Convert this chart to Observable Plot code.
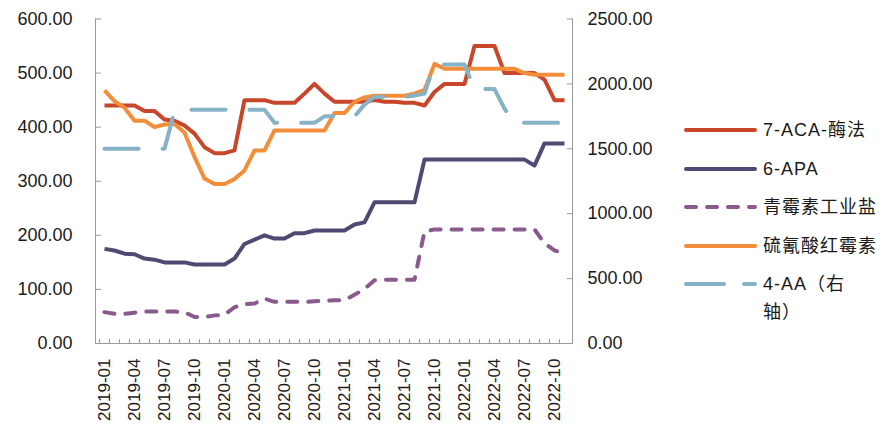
<!DOCTYPE html>
<html><head><meta charset="utf-8">
<script src="https://cdn.jsdelivr.net/npm/d3@7"></script>
<script src="https://cdn.jsdelivr.net/npm/@observablehq/plot@0.6"></script>
<style>
body{margin:0;background:#fff;}
#wrap{position:relative;width:896px;height:430px;font-family:"Liberation Sans","Noto Sans CJK SC",sans-serif;}
.lg{position:absolute;font-size:18px;color:#1a1a1a;white-space:nowrap;letter-spacing:1px;line-height:28px;}
.ls{position:absolute;}
</style></head><body><div id="wrap"><div id="chart"></div></div>
<script>
const months = [];
for (let y = 2019; y <= 2022; y++) for (let m = 1; m <= 12; m++) if (!(y === 2022 && m === 12)) months.push(`${y}-${String(m).padStart(2,"0")}`);

const aca7 = [440,440,440,440,430,430,414,412,403,388,363,352,352,357,450,450,450,445,445,445,462,480,462,447,447,447,447,450,447,447,445,445,440,465,480,480,480,550,550,550,500,500,500,500,488,450,450];
const apa6 = [175,172,166,165,157,155,150,150,150,146,146,146,146,157,184,192,200,194,194,204,204,209,209,209,209,220,224,261,261,261,261,261,340,340,340,340,340,340,340,340,340,340,340,329,370,370,370];
const penicillin = [58,55,55,57,59,59,59,59,58,49,49,52,53,67,73,74,83,77,77,77,77,78,79,80,80,90,101,117,118,118,118,118,207,211,211,211,211,211,211,211,211,211,211,211,185,172,167];
const erythro = [468,448,436,412,412,400,405,406,390,345,305,295,295,304,320,357,357,394,394,394,394,394,394,426,426,447,455,458,458,458,458,462,469,517,508,508,508,508,508,508,508,508,500,497,497,497,497];
const aa4 = [1500,1500,1500,1500,1500,1500,1500,1790,1800,1800,1800,1800,1800,1800,1800,1800,1800,1700,1700,1700,1700,1700,1750,1750,1750,1750,1840,1900,1900,1900,1900,1910,1925,2150,2150,2150,2150,1960,1960,1960,1810,1700,1700,1700,1700,1700,1700];

const leftTicks = [0,100,200,300,400,500,600];
const rightTicks = [0,500,1000,1500,2000,2500];
const labelMonths = months.filter((m,i) => i % 3 === 0);

const series = [
  {name:"7-ACA-酶法", values: aca7, color:"#C8462B", dash:null},
  {name:"6-APA", values: apa6, color:"#4E4A73", dash:null},
  {name:"青霉素工业盐", values: penicillin, color:"#8A5A8C", dash:"10,11"},
  {name:"硫氰酸红霉素", values: erythro, color:"#F28E3A", dash:null},
  {name:"4-AA（右轴）", values: aa4, color:"#86B2C6", dash:"34,24", right:true}
];
const ratio = 600/2500;

const W = 896, H = 430, mL = 95, mR = 324, mT = 18.5, mB = 87;
const step = (W - mL - mR) / months.length;
const axisColor = "#9a9a9a";

const marks = [
  Plot.frame({anchor:"left", stroke: axisColor}),
  Plot.frame({anchor:"right", stroke: axisColor}),
  Plot.frame({anchor:"bottom", stroke: axisColor}),
  Plot.axisY({anchor:"left", ticks: leftTicks, tickFormat: d => d.toFixed(2), tickSize: 0, tickPadding: 23, label: null, fontSize: 18, style:{letterSpacing:"0.6px"}}),
  Plot.axisY({anchor:"left", ticks: leftTicks, tickFormat: () => "", tickSize: 6, dx: 6, stroke: axisColor, label: null}),
  Plot.axisY({anchor:"right", ticks: rightTicks.map(v => v*ratio), tickFormat: d => (d/ratio).toFixed(2), tickSize: 0, tickPadding: 15, label: null, fontSize: 18, style:{letterSpacing:"0.6px"}}),
  Plot.axisY({anchor:"right", ticks: rightTicks.map(v => v*ratio), tickFormat: () => "", tickSize: 6, dx: -6, stroke: axisColor, label: null}),
  Plot.axisX({ticks: months, tickFormat: () => "", tickSize: 4, dy: -4, dx: -step/2, stroke: axisColor, label: null}),
  Plot.axisX({ticks: labelMonths, tickRotate: -90, tickSize: 0, tickPadding: 15, label: null})
];
for (const s of series) {
  marks.push(Plot.line(s.values, {
    x: (d,i) => months[i],
    y: d => s.right ? d*ratio : d,
    stroke: s.color, strokeWidth: 4, strokeLinejoin: "round",
    strokeLinecap: s.dash ? "round" : "butt",
    strokeDasharray: s.dash || undefined
  }));
}

const chart = Plot.plot({
  width: W, height: H, marginLeft: mL, marginRight: mR, marginTop: mT, marginBottom: mB,
  style: {fontFamily: '"Liberation Sans","Noto Sans CJK SC",sans-serif', fontSize: "17px", color: "#1a1a1a", background: "#fff"},
  x: {type: "point", domain: months, padding: 0.5, axis: null},
  y: {domain: [0, 600], axis: null},
  marks
});
document.getElementById("chart").appendChild(chart);

// legend
const wrap = document.getElementById("wrap");
const rows = [130, 169, 207, 246, 284];
series.forEach((s, k) => {
  const cy = rows[k];
  const svg = document.createElementNS("http://www.w3.org/2000/svg", "svg");
  svg.setAttribute("width", 74); svg.setAttribute("height", 10);
  svg.setAttribute("class", "ls");
  svg.style.left = "684px"; svg.style.top = (cy - 5) + "px";
  const ln = document.createElementNS("http://www.w3.org/2000/svg", "line");
  ln.setAttribute("x1", 2); ln.setAttribute("x2", 71); ln.setAttribute("y1", 5); ln.setAttribute("y2", 5);
  ln.setAttribute("stroke", s.color); ln.setAttribute("stroke-width", 4);
  ln.setAttribute("stroke-linecap", "round");
  if (s.dash) ln.setAttribute("stroke-dasharray", k === 2 ? "10,11" : "38,20");
  svg.appendChild(ln);
  wrap.appendChild(svg);
  const t = document.createElement("div");
  t.className = "lg";
  t.style.left = "763px"; t.style.top = (cy - 14) + "px";
  if (s.right) t.innerHTML = "4-AA（右<br>轴）"; else t.textContent = s.name;
  wrap.appendChild(t);
});
</script></body></html>
